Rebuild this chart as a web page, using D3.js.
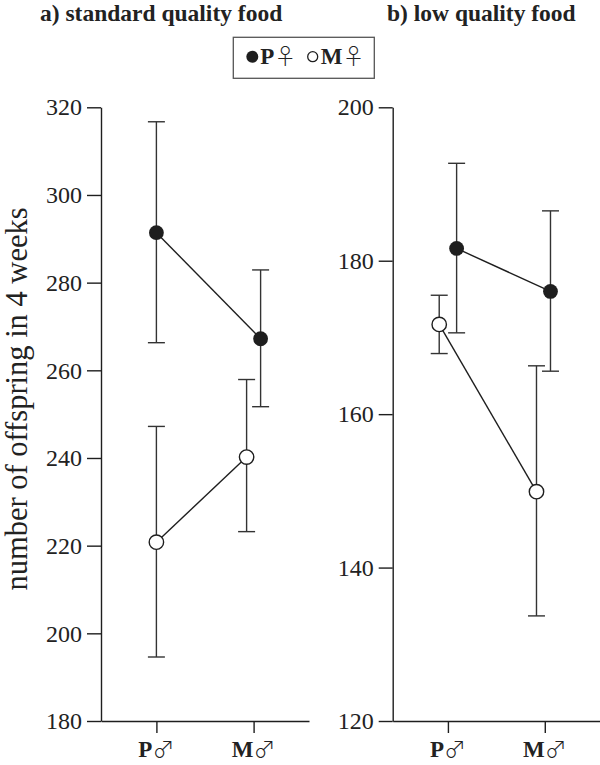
<!DOCTYPE html>
<html><head><meta charset="utf-8">
<script src="https://cdn.jsdelivr.net/npm/d3@7"></script>
<style>body{margin:0;background:#fff}svg{display:block}</style>
</head><body><svg id="c" width="600" height="765"></svg>
<script>
// ---- data ----
const categories = ["P", "M"];          // male type (x axis)
const seriesNames = ["P", "M"];         // female type (legend)
// panel a) standard quality food
const aMeanPF = [291.4, 267.2];
const aLowPF  = [266.3, 251.7];
const aHighPF = [316.7, 282.9];
const aMeanMF = [220.8, 240.2];
const aLowMF  = [194.6, 223.2];
const aHighMF = [247.2, 257.9];
const aTicks  = [180, 200, 220, 240, 260, 280, 300, 320];
// panel b) low quality food
const bMeanPF = [181.6, 176.0];
const bLowPF  = [170.6, 165.6];
const bHighPF = [192.7, 186.5];
const bMeanMF = [171.7, 149.9];
const bLowMF  = [167.9, 133.7];
const bHighMF = [175.5, 166.3];
const bTicks  = [120, 140, 160, 180, 200];
const titles = ["a) standard quality food", "b) low quality food"];
const yTitle = "number of offspring in 4 weeks";

// ---- style / layout ----
const ink = "#1e1e1e";
const svg = d3.select("#c");
const serif = "'Liberation Serif','Times New Roman',serif";
const sym = "'Noto Sans CJK JP','DejaVu Sans',sans-serif";

const panels = [
  {x0: 101, x1: 309, dom: [180, 320], ticks: aTicks, title: titles[0], tx: 40,
   series: [
     {mean: aMeanPF, lo: aLowPF, hi: aHighPF, filled: true,  dodge: [0, 7]},
     {mean: aMeanMF, lo: aLowMF, hi: aHighMF, filled: false, dodge: [0, -7]}]},
  {x0: 392.7, x1: 600, dom: [120, 200], ticks: bTicks, title: titles[1], tx: 387,
   series: [
     {mean: bMeanPF, lo: bLowPF, hi: bHighPF, filled: true,  dodge: [8.7, 5.7]},
     {mean: bMeanMF, lo: bLowMF, hi: bHighMF, filled: false, dodge: [-8.7, -8.3]}]}
];

panels.forEach(p => {
  const y = d3.scaleLinear().domain(p.dom).range([721, 107.3]);
  const x = d3.scalePoint().domain(categories).range([p.x0, p.x1]).padding(0.57);
  const g = svg.append("g");

  const ya = g.append("g").attr("transform", `translate(${p.x0},0)`)
    .call(d3.axisLeft(y).tickValues(p.ticks).tickSize(14).tickSizeOuter(0).tickPadding(5));
  ya.select(".domain").attr("stroke", ink).attr("stroke-width", 1.4);
  ya.selectAll(".tick line").attr("stroke", ink).attr("stroke-width", 1.4);
  ya.selectAll(".tick text").attr("font-family", serif).attr("font-size", 24).attr("fill", "#222");

  const xa = g.append("g").attr("transform", `translate(0,721)`)
    .call(d3.axisBottom(x).tickSize(12).tickSizeOuter(0).tickFormat(""));
  xa.select(".domain").attr("stroke", ink).attr("stroke-width", 1.4);
  xa.selectAll(".tick line").attr("stroke", ink).attr("stroke-width", 1.4);
  categories.forEach(c => {
    const t = g.append("text").attr("x", x(c)).attr("y", 757).attr("text-anchor", "middle")
      .attr("fill", "#222");
    t.append("tspan").attr("font-family", serif).attr("font-weight", "bold").attr("font-size", 23).text(c);
    t.append("tspan").attr("font-family", sym).attr("font-size", 22).attr("font-weight", 300).text("\u2642");
  });

  g.append("text").attr("x", p.tx).attr("y", 21).attr("font-family", serif)
    .attr("font-weight", "bold").attr("font-size", 23.5).attr("fill", "#222").text(p.title);

  const px = (s, i) => x(categories[i]) + s.dodge[i];
  // error bars
  p.series.forEach(s => {
    categories.forEach((c, i) => {
      const cx = px(s, i);
      g.append("line").attr("x1", cx).attr("x2", cx).attr("y1", y(s.lo[i])).attr("y2", y(s.hi[i]))
        .attr("stroke", "#333").attr("stroke-width", 1.4);
      [s.lo[i], s.hi[i]].forEach(v => g.append("line").attr("x1", cx - 8.5).attr("x2", cx + 8.5)
        .attr("y1", y(v)).attr("y2", y(v)).attr("stroke", "#333").attr("stroke-width", 1.4));
    });
  });
  // connecting lines
  p.series.forEach(s => {
    g.append("path").attr("d", d3.line().x((d, i) => px(s, i)).y(d => y(d))(s.mean))
      .attr("fill", "none").attr("stroke", ink).attr("stroke-width", 1.4);
  });
  // markers
  p.series.forEach(s => {
    s.mean.forEach((v, i) => g.append("circle").attr("cx", px(s, i)).attr("cy", y(v))
      .attr("r", s.filled ? 7.4 : 7.2).attr("fill", s.filled ? ink : "#fff")
      .attr("stroke", ink).attr("stroke-width", s.filled ? 0 : 1.4));
  });
});

// y title
svg.append("text").attr("transform", "translate(27,399) rotate(-90)").attr("text-anchor", "middle")
  .attr("font-family", serif).attr("font-size", 30.5).attr("fill", "#222").text(yTitle);

// legend
const lg = svg.append("g");
lg.append("rect").attr("x", 233.3).attr("y", 37.3).attr("width", 141).attr("height", 41)
  .attr("fill", "#fff").attr("stroke", "#555").attr("stroke-width", 1.3);
const legX = [252.3, 312.7];
seriesNames.forEach((n, i) => {
  lg.append("circle").attr("cx", legX[i]).attr("cy", 56.7).attr("r", i === 0 ? 6 : 5)
    .attr("fill", i === 0 ? ink : "#fff").attr("stroke", ink).attr("stroke-width", i === 0 ? 0 : 1.3);
  const t = lg.append("text").attr("x", legX[i] + 8).attr("y", 64).attr("fill", "#222");
  t.append("tspan").attr("font-family", serif).attr("font-weight", "bold").attr("font-size", 23).text(n);
  t.append("tspan").attr("font-family", sym).attr("font-size", 22).attr("font-weight", 300).text("\u2640");
});
</script></body></html>
